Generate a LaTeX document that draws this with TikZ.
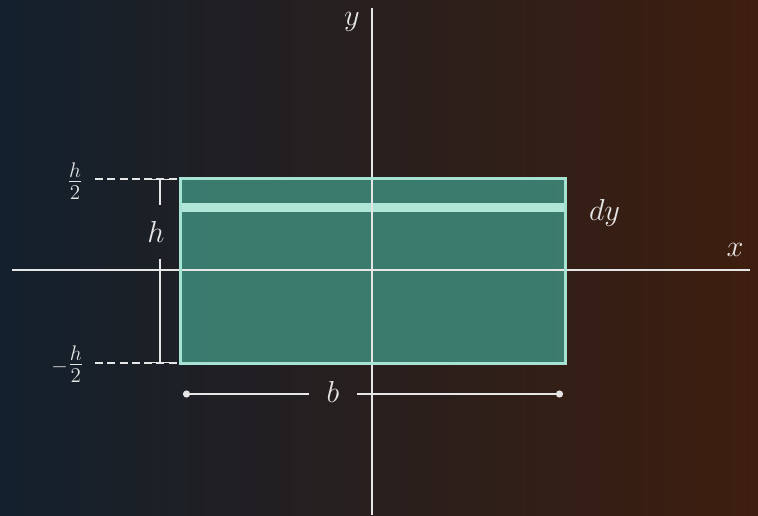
\documentclass[tikz,border=0pt]{standalone}
\usepackage{amsmath}
\usepackage{tikz}
\usetikzlibrary{arrows.meta,positioning,calc}
\definecolor{bgleft}{HTML}{13202D}
\definecolor{bgmid}{HTML}{19130F}
\definecolor{bgright}{HTML}{3E1E0E}
\definecolor{chalk}{HTML}{E6E6E6}
\definecolor{seafill}{HTML}{3D8677}
\definecolor{seaedge}{HTML}{A6E3D3}
\tikzset{
  axis/.style={draw=chalk,line width=1.6pt},
  beam/.style={fill=seafill,fill opacity=0.9,inner sep=0pt,minimum width=7.68cm,minimum height=3.68cm},
  beamedge/.style={draw=seaedge,line width=1.5pt},
  strip/.style={fill=seaedge!90,inner sep=0pt,minimum width=7.68cm,minimum height=0.18cm},
  dim/.style={draw=chalk,line width=1pt},
  guide/.style={draw=chalk,line width=1.3pt,dash pattern=on 4.5pt off 2.5pt},
  lbl/.style={text=chalk,font=\LARGE}
}
\begin{document}
\begin{tikzpicture}[x=0.02cm,y=-0.02cm]
  % backdrop
  \shade[left color=bgleft,middle color=bgmid,right color=bgright] (0,0) rectangle (758,515);
  \useasboundingbox (0,0) rectangle (758,515);

  % the section and its strip
  \node[beam] (sect) at (373,271) {};
  \node[strip] (dystrip) at (373,207.5) {};

  % axes
  \coordinate (xl) at (12,270);
  \coordinate (xr) at (750,270);
  \coordinate (yt) at (372,8);
  \coordinate (yb) at (372,515);
  \draw[axis] (xl) -- (xr);
  \draw[axis] (yt) -- (yb);
  \draw[beamedge] (sect.north west) rectangle (sect.south east);

  \node[lbl] (xlab) at (735,250) {$x$};
  \node[lbl] (ylab) at (352,22) {$y$};
  \node[lbl,right=3.5mm of dystrip.east,yshift=-1mm] (dylab) {$dy$};

  % height
  \coordinate (htop) at (160,0 |- sect.north);
  \coordinate (hbot) at (160,0 |- sect.south);
  \node[lbl,inner ysep=9pt] (hlab) at (156,232) {$h$};
  \draw[dim,{Bar[width=10pt]}-] (htop) -- (htop |- hlab.north);
  \draw[dim,-{Bar[width=10pt]}] (hbot |- hlab.south) -- (hbot);

  \coordinate (gtop) at (95,0 |- sect.north);
  \coordinate (gbot) at (95,0 |- sect.south);
  \draw[guide] (gtop) -- (sect.north west);
  \draw[guide] (gbot) -- (sect.south west);
  \node[lbl] (halfup) at (75,181) {$\frac{h}{2}$};
  \node[lbl,anchor=east] (halfdn) at (90,364) {${\scriptstyle-}\frac{h}{2}$};

  % width
  \coordinate (bl) at (183,394);
  \coordinate (br) at (563,394);
  \node[lbl,inner xsep=10pt] (blab) at (333,392) {$b$};
  \draw[dim,{Circle[length=4pt]}-] (bl) -- (blab.west |- bl);
  \draw[dim,-{Circle[length=4pt]}] (blab.east |- br) -- (br);
\end{tikzpicture}
\end{document}
